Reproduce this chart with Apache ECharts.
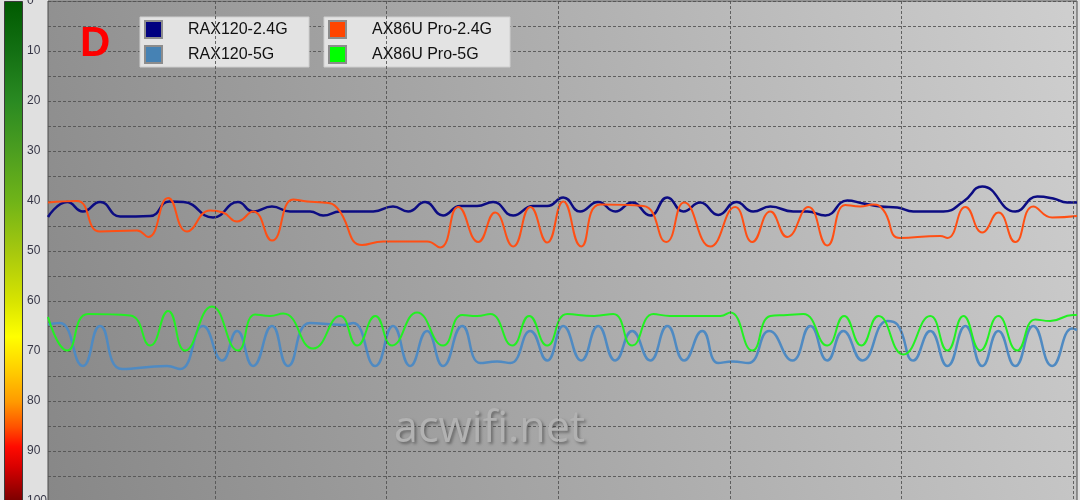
<!DOCTYPE html>
<html>
<head>
<meta charset="utf-8">
<script src="https://cdn.jsdelivr.net/npm/echarts@6/dist/echarts.min.js"></script>
<style>
  html, body { margin: 0; padding: 0; background: #e0e0e0; }
  #chart { width: 1080px; height: 500px; }
</style>
</head>
<body>
<div id="chart"></div>
<script>
// ---- data (time in seconds, signal value on an inverted 0-100 scale) ----
const seriesNames = ['RAX120-2.4G', 'RAX120-5G', 'AX86U Pro-2.4G', 'AX86U Pro-5G'];
const yTickLabels = [0, 10, 20, 30, 40, 50, 60, 70, 80, 90, 100];
const timeGridLines = [60, 120, 180, 240, 300, 360];

const rax120_24 = [
  [1.6, 43.2], [8.3, 40.2], [13.8, 42.1], [19.8, 40.2], [26.8, 43.1], [37.3, 43.0],
  [44.0, 40.1], [49.0, 40.2], [59.3, 43.3], [68.0, 40.2], [73.3, 42.1], [79.9, 41.1],
  [86.2, 42.1], [93.2, 42.1], [97.8, 42.9], [103.7, 42.1], [115.3, 42.1], [122.2, 41.1],
  [127.5, 42.1], [133.4, 40.2], [139.7, 42.9], [145.7, 41.0], [151.6, 41.0], [157.2, 40.2],
  [164.2, 42.9], [171.2, 41.0], [176.1, 41.0], [181.7, 39.3], [187.6, 42.1], [193.9, 40.2],
  [199.9, 42.1], [205.8, 40.3], [212.1, 42.9], [218.1, 39.3], [223.7, 42.1], [229.6, 40.3],
  [235.9, 42.8], [242.2, 40.2], [248.1, 42.1], [254.1, 41.1], [262.1, 42.1], [267.0, 42.1],
  [273.3, 42.9], [281.0, 39.9], [286.6, 40.5], [292.6, 41.1], [298.5, 41.3], [304.1, 42.1],
  [314.6, 42.1], [321.6, 40.1], [328.2, 37.1], [339.7, 42.1], [347.4, 39.1], [353.0, 39.5],
  [357.9, 40.3], [361.3, 40.3]
];

const rax120_5 = [
  [1.6, 64.7], [5.8, 64.4], [13.8, 73.0], [19.8, 65.0], [27.5, 73.6], [43.2, 73.0],
  [47.8, 73.6], [55.8, 65.0], [62.5, 71.9], [67.7, 66.0], [73.3, 73.0], [79.9, 65.0],
  [85.5, 73.0], [93.2, 64.4], [104.8, 64.8], [108.3, 64.4], [116.0, 73.0], [122.2, 65.0],
  [128.2, 73.0], [134.1, 66.0], [139.7, 73.0], [146.4, 65.0], [152.7, 72.4], [158.6, 72.1],
  [163.2, 72.4], [170.2, 66.0], [176.1, 71.9], [181.7, 65.0], [188.0, 71.9], [193.9, 65.0],
  [199.9, 71.9], [205.8, 66.0], [212.1, 71.9], [218.1, 65.0], [224.0, 71.9], [230.3, 66.0],
  [235.9, 72.4], [241.0, 72.1], [246.4, 72.4], [253.7, 66.0], [261.8, 71.9], [268.1, 65.0],
  [274.0, 71.9], [279.6, 66.0], [286.3, 71.9], [295.0, 64.0], [298.5, 64.7], [304.1, 71.9],
  [310.0, 66.0], [316.0, 73.0], [322.3, 65.0], [328.2, 73.0], [333.8, 66.0], [339.7, 73.0],
  [346.0, 65.0], [352.6, 73.0], [359.6, 65.5], [361.3, 65.8]
];

const ax86u_24 = [
  [1.6, 40.3], [11.7, 40.0], [19.8, 46.1], [32.7, 45.9], [36.6, 47.2], [43.6, 39.4],
  [50.2, 46.1], [58.3, 41.9], [62.8, 42.3], [67.7, 44.1], [73.3, 42.1], [79.9, 47.9],
  [87.3, 39.7], [92.2, 40.1], [97.8, 40.3], [102.7, 41.4], [111.4, 48.8], [118.8, 48.1],
  [134.1, 48.1], [138.7, 49.3], [145.0, 41.2], [152.0, 48.2], [157.9, 42.3], [164.2, 49.1],
  [170.2, 41.2], [176.1, 48.3], [181.7, 40.1], [188.0, 49.1], [194.6, 40.7], [209.7, 41.0],
  [217.7, 48.2], [224.0, 40.3], [233.1, 49.1], [241.8, 41.2], [247.8, 48.2], [254.1, 42.1],
  [260.0, 47.2], [267.4, 41.2], [274.0, 48.9], [280.3, 40.8], [285.5, 41.1], [290.1, 40.7],
  [293.6, 41.8], [299.5, 47.4], [313.5, 47.0], [316.0, 47.4], [322.3, 41.2], [328.2, 46.3],
  [333.8, 42.3], [339.7, 48.2], [346.0, 41.1], [352.6, 43.3], [361.3, 43.0]
];

const ax86u_5 = [
  [1.6, 63.2], [8.3, 69.9], [15.6, 62.6], [30.3, 62.9], [37.3, 68.9], [43.6, 62.0],
  [49.5, 69.9], [58.9, 61.1], [68.0, 69.9], [74.0, 62.7], [79.2, 63.0], [83.8, 62.5],
  [94.3, 69.5], [103.7, 63.0], [109.7, 68.9], [116.0, 63.0], [121.9, 68.9], [130.6, 62.3],
  [139.7, 68.9], [146.4, 62.8], [151.6, 63.0], [156.2, 62.6], [163.9, 68.9], [169.8, 63.0],
  [176.1, 68.9], [183.1, 62.6], [192.5, 63.0], [199.2, 62.6], [205.8, 68.9], [213.2, 62.6],
  [219.0, 63.0], [236.6, 63.0], [240.1, 62.3], [247.8, 69.9], [254.1, 63.0], [260.0, 62.8],
  [265.6, 62.6], [274.0, 68.9], [279.9, 63.0], [285.9, 68.9], [291.9, 63.0], [300.6, 70.7],
  [310.0, 63.0], [316.0, 69.9], [321.6, 63.0], [327.5, 69.9], [333.8, 63.0], [340.4, 69.9],
  [346.7, 63.7], [351.9, 64.0], [359.9, 62.8], [361.3, 62.8]
];

const lineColors = ['#0c0c82', '#4f8ac2', '#ff4f14', '#22f022'];
const lineWidths = [2.5, 2.5, 2, 2];
const legendColors = ['#000080', '#4682b4', '#ff4500', '#00ff00'];

// ---- chart ----
const chart = echarts.init(document.getElementById('chart'), null, { renderer: 'canvas' });

function mkSeries(i, data) {
  return {
    name: seriesNames[i],
    type: 'line',
    data: data,
    smooth: 0.5,
    showSymbol: false,
    symbol: 'none',
    z: 3,
    color: legendColors[i],
    lineStyle: { color: lineColors[i], width: lineWidths[i] },
    itemStyle: { color: legendColors[i] },
    animation: false
  };
}

const legendCommon = {
  orient: 'vertical',
  top: 17,
  icon: 'rect',
  itemWidth: 17,
  itemHeight: 17,
  itemGap: 6,
  backgroundColor: '#e3e3e3',
  borderColor: '#cfcfcf',
  borderWidth: 1,
  selectedMode: false,
  itemStyle: { borderColor: '#8c8c8c', borderWidth: 2 },
  textStyle: {
    fontFamily: 'Liberation Sans, Arial, sans-serif',
    fontSize: 16,
    color: '#111',
    lineHeight: 19,
    padding: [0, 0, 0, 21]
  }
};

const option = {
  animation: false,
  backgroundColor: '#e0e0e0',
  grid: {
    left: 48, top: 1, width: 1029, height: 500,
    outerBoundsMode: 'none',
    containLabel: false,
    show: true,
    borderColor: '#4a4a4a',
    borderWidth: 1,
    backgroundColor: {
      type: 'linear', x: 0, y: 1, x2: 1.151, y2: 0.224,
      colorStops: [
        { offset: 0, color: '#878787' },
        { offset: 1, color: '#d6d6d6' }
      ]
    }
  },
  xAxis: {
    type: 'value', min: 1.6, max: 361.3, show: false
  },
  yAxis: {
    type: 'value', inverse: true, min: 0, max: 100, interval: 5,
    axisLine: { show: false }, axisTick: { show: false },
    axisLabel: {
      formatter: v => (yTickLabels.indexOf(v) >= 0 ? String(v) : ''),
      align: 'left', margin: 21,
      padding: [4, 0, 0, 0],
      color: '#363646', fontSize: 12,
      fontFamily: 'Liberation Sans, Arial, sans-serif'
    },
    splitLine: { show: true, lineStyle: { color: '#505050', width: 1, type: [3, 2], opacity: 0.85 } }
  },
  legend: [
    Object.assign({}, legendCommon, {
      left: 140, data: [seriesNames[0], seriesNames[1]],
      padding: [3, 3, 3, 4],
      textStyle: Object.assign({}, legendCommon.textStyle, { width: 118 })
    }),
    Object.assign({}, legendCommon, {
      left: 324, data: [seriesNames[2], seriesNames[3]],
      padding: [3, 3, 3, 4],
      textStyle: Object.assign({}, legendCommon.textStyle, { width: 135 })
    })
  ],
  graphic: [
    {
      type: 'rect', left: 4, top: 1, z: 10,
      shape: { width: 18, height: 500 },
      style: {
        fill: {
          type: 'linear', x: 0, y: 0, x2: 0, y2: 1,
          colorStops: [
            { offset: 0.00, color: '#005a00' },
            { offset: 0.10, color: '#137013' },
            { offset: 0.20, color: '#2a8a22' },
            { offset: 0.30, color: '#4c9e20' },
            { offset: 0.40, color: '#70b418' },
            { offset: 0.50, color: '#a6c80e' },
            { offset: 0.60, color: '#d8e400' },
            { offset: 0.67, color: '#ffff00' },
            { offset: 0.74, color: '#ffcc00' },
            { offset: 0.80, color: '#ff9a00' },
            { offset: 0.85, color: '#ff5200' },
            { offset: 0.89, color: '#ff0a00' },
            { offset: 0.93, color: '#d80000' },
            { offset: 1.00, color: '#780000' }
          ]
        },
        stroke: '#3a3a3a', lineWidth: 1
      }
    },
    {
      type: 'text', left: 80, top: 23, z: 10,
      style: {
        text: 'D', fill: '#ff0000',
        font: 'bold 42px "Liberation Sans", Arial, sans-serif'
      }
    },
    {
      type: 'text', left: 394, top: 408, z: 1,
      style: {
        text: 'acwifi.net', fill: '#b2b2b2',
        font: '43px "Open Sans", "Noto Sans", sans-serif',
        textShadowColor: 'rgba(0,0,0,0.35)', textShadowBlur: 3,
        textShadowOffsetX: 2, textShadowOffsetY: 2
      }
    }
  ],
  series: [
    {
      name: 'grid-lines', type: 'line', data: [], z: 1, silent: true,
      markLine: {
        silent: true, symbol: ['none', 'none'], animation: false,
        label: { show: false },
        lineStyle: { color: '#505050', width: 1, type: [3, 2], opacity: 0.85 },
        data: timeGridLines.map(t => ({ xAxis: t }))
      }
    },
    mkSeries(0, rax120_24),
    mkSeries(1, rax120_5),
    mkSeries(2, ax86u_24),
    mkSeries(3, ax86u_5)
  ]
};

chart.setOption(option);
</script>
</body>
</html>
